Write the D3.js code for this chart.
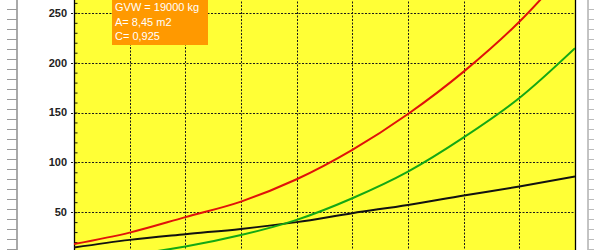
<!DOCTYPE html>
<html>
<head>
<meta charset="utf-8">
<script src="https://cdn.jsdelivr.net/npm/d3@7/dist/d3.min.js"></script>
<style>
  body { margin: 0; background: #fff; }
  svg { display: block; }
</style>
</head>
<body>
<svg id="chart" width="600" height="250"></svg>
<script>
// speed steps (x axis, no labels visible in the crop)
var speeds = [0, 10, 20, 30, 40, 50, 60, 70, 80, 90];
// power curves
var rollPower  = [14.5, 22.2, 27.9, 33.2, 40, 49, 57.3, 66.7, 75.7, 85.7];   // black
var aeroPower  = [3.5, 7.5, 15.5, 27, 42.3, 64, 90.7, 125, 164.5, 214.5];    // green
var totalPower = [18, 29.5, 45, 60.6, 83, 112.5, 148.5, 191, 241, 302];      // red
var yTicks = [50, 100, 150, 200, 250];
var noteLines = ["GVW = 19000 kg", "A= 8,45 m2", "C= 0,925"];

var svg = d3.select("#chart");

var margin = {left: 74, right: 25},
    width = +svg.attr("width"),
    plotW = width - margin.left - margin.right;

var x = d3.scaleLinear().domain([0, 90]).range([margin.left, margin.left + plotW]);
// y = 0 sits just below the visible area, the chart is cropped top and bottom
var y = d3.scaleLinear().domain([0, 300]).range([262, -37]);

// spreadsheet cell lines left and right of the chart
var sheet = svg.append("g").attr("stroke", "#9a9a9a");
sheet.append("line").attr("x1", 17).attr("x2", 17).attr("y1", 0).attr("y2", 250).attr("stroke", "#555");
sheet.selectAll(".lt").data(d3.range(9.5, 250, 10)).enter().append("line")
    .attr("x1", 7).attr("x2", 17).attr("y1", function(d) { return d; }).attr("y2", function(d) { return d; });
sheet.append("line").attr("x1", 588).attr("x2", 588).attr("y1", 0).attr("y2", 250).attr("stroke", "#888");
sheet.selectAll(".rt").data(d3.range(9.5, 250, 10)).enter().append("line")
    .attr("x1", 588).attr("x2", 594).attr("y1", function(d) { return d; }).attr("y2", function(d) { return d; })
    .attr("stroke", "#bbb");

// plot background
svg.append("rect")
    .attr("x", x(0)).attr("y", y(300))
    .attr("width", x(90) - x(0)).attr("height", y(0) - y(300))
    .attr("fill", "#ffff36");

svg.append("clipPath").attr("id", "clip")
  .append("rect")
    .attr("x", x(0)).attr("y", y(300))
    .attr("width", x(90) - x(0)).attr("height", y(0) - y(300));

// grid
var grid = svg.append("g")
    .attr("stroke", "#1a1a1a").attr("stroke-width", 1).attr("stroke-dasharray", "2,1.5");
grid.selectAll(".hg").data(yTicks).enter().append("line")
    .attr("x1", x(0) - 3).attr("x2", x(90))
    .attr("y1", function(d) { return Math.round(y(d)) + 0.5; })
    .attr("y2", function(d) { return Math.round(y(d)) + 0.5; });
grid.selectAll(".vg").data(speeds.slice(1, 9)).enter().append("line")
    .attr("x1", function(d) { return Math.round(x(d)) + 0.5; })
    .attr("x2", function(d) { return Math.round(x(d)) + 0.5; })
    .attr("y1", y(300)).attr("y2", y(0));

// y axis with minor ticks inside
var yAxis = svg.append("g")
    .attr("transform", "translate(" + (x(0) + 0.5) + ",0)")
    .call(d3.axisRight(y).tickValues(d3.range(0, 301, 10)).tickSize(3).tickFormat(""));
yAxis.select(".domain").remove();
yAxis.selectAll("line").attr("stroke", "#111");

svg.selectAll(".ylab").data(yTicks).enter().append("text")
    .attr("x", x(0) - 7)
    .attr("y", function(d) { return y(d); })
    .attr("dy", "0.35em")
    .attr("text-anchor", "end")
    .style("font-family", "Liberation Sans, Arial, sans-serif")
    .style("font-size", "11px")
    .style("font-weight", "bold")
    .attr("fill", "#222")
    .text(function(d) { return d; });

// plot border (left and right)
svg.append("line").attr("x1", x(0) + 0.5).attr("x2", x(0) + 0.5).attr("y1", 0).attr("y2", 250)
    .attr("stroke", "#000").attr("stroke-width", 1.3);
svg.append("line").attr("x1", x(90) + 0.5).attr("x2", x(90) + 0.5).attr("y1", 0).attr("y2", 250)
    .attr("stroke", "#000").attr("stroke-width", 1.3);

// curves
var series = [
    {values: rollPower,  color: "#111111"},
    {values: aeroPower,  color: "#14a814"},
    {values: totalPower, color: "#e0120a"}
];
var line = d3.line()
    .x(function(d, i) { return x(speeds[i]); })
    .y(function(d) { return y(d); })
    .curve(d3.curveMonotoneX);

svg.append("g").attr("clip-path", "url(#clip)")
  .selectAll("path")
  .data(series)
  .enter().append("path")
    .attr("fill", "none")
    .attr("stroke", function(d) { return d.color; })
    .attr("stroke-width", 2)
    .attr("d", function(d) { return line(d.values); });

// note box
var note = svg.append("g");
note.append("rect")
    .attr("x", 112).attr("y", -5).attr("width", 96).attr("height", 50)
    .attr("fill", "#ff9900");
note.selectAll("text").data(noteLines).enter().append("text")
    .attr("x", 115)
    .attr("y", function(d, i) { return 7 + i * 14.8; })
    .attr("dy", "0.35em")
    .style("font-family", "Liberation Sans, Arial, sans-serif")
    .style("font-size", "11px")
    .attr("fill", "#ffffff")
    .text(function(d) { return d; });
</script>
</body>
</html>
